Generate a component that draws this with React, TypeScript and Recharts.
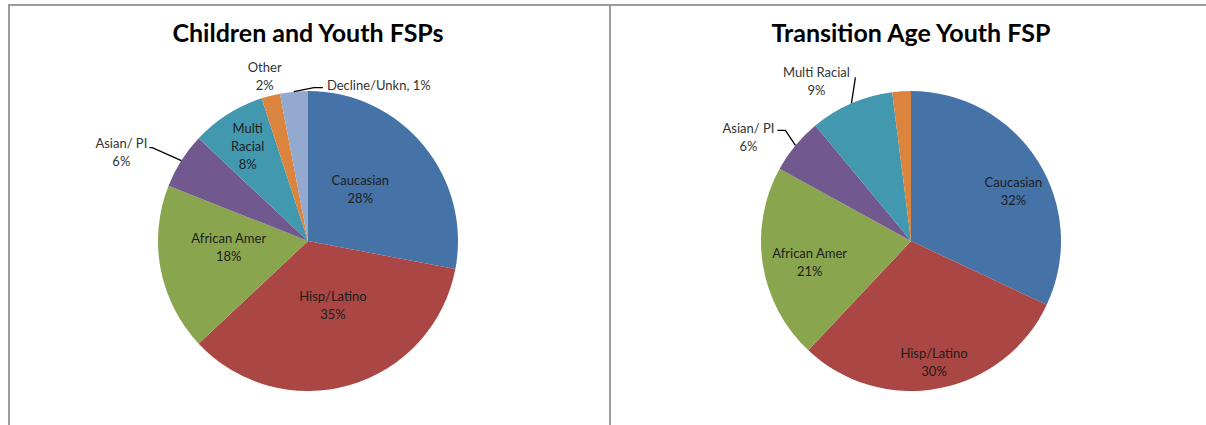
import { PieChart, Pie, Cell } from 'recharts';

// slice order runs clockwise from 12 o'clock
const categories = ['Caucasian', 'Hisp/Latino', 'African Amer', 'Asian/ PI', 'Multi Racial', 'Other', 'Decline/Unkn'];
const childValues = [28, 35, 18, 6, 8, 2, 3];
const tayValues = [32, 30, 21, 6, 9, 2];

const childLabels = [
  ['Caucasian', '28%'],
  ['Hisp/Latino', '35%'],
  ['African Amer', '18%'],
  ['Asian/ PI', '6%'],
  ['Multi', 'Racial', '8%'],
  ['Other', '2%'],
  ['Decline/Unkn, 1%'],
];
const tayLabels = [
  ['Caucasian', '32%'],
  ['Hisp/Latino', '30%'],
  ['African Amer', '21%'],
  ['Asian/ PI', '6%'],
  ['Multi Racial', '9%'],
  [],
];

const colors = ['#4572A7', '#AA4643', '#89A54E', '#71588F', '#4198AF', '#DB843D', '#93A9CF'];

// label placement: k = fraction of radius (inside), nudge = degrees clockwise;
// outside labels are offsets from the slice's edge point
type Place =
  | { k: number; nudge: number }
  | { text: [number, number]; anchor: 'start' | 'middle' | 'end'; line?: [number, number][] };

const childPlace: Place[] = [
  { k: 0.49, nudge: -5 },
  { k: 0.46, nudge: -5 },
  { k: 0.53, nudge: 6.5 },
  { text: [-60, -18], anchor: 'middle', line: [[0, 0], [-29, -13], [-32, -13]] },
  { k: 0.75, nudge: 0 },
  { text: [-6, -29], anchor: 'middle' },
  { text: [33, -7], anchor: 'start', line: [[0, 0], [20, -4], [29, -4]] },
];
const tayPlace: Place[] = [
  { k: 0.76, nudge: 6.3 },
  { k: 0.82, nudge: 0 },
  { k: 0.69, nudge: -2.7 },
  { text: [-47, -17], anchor: 'middle', line: [[0, 0], [-10, -15], [-18, -15]] },
  { text: [-35, -31], anchor: 'middle', line: [[0, 0], [4, -26]] },
  { text: [0, 0], anchor: 'middle' },
];

const RAD = Math.PI / 180;
const FONT = 'Lato, "Open Sans", sans-serif';
const LINE_H = 18;

const makeLabel = (lines: string[][], place: Place[]) => (props: any) => {
  const { cx, cy, midAngle, outerRadius, index } = props;
  const txt = lines[index] || [];
  if (!txt.length) return null;
  const p = place[index];
  if ('k' in p) {
    const a = midAngle - p.nudge;
    const r = outerRadius * p.k;
    const x = cx + r * Math.cos(-a * RAD);
    const y = cy + r * Math.sin(-a * RAD);
    const y0 = y - ((txt.length - 1) * LINE_H) / 2;
    return (
      <text key={`l${index}`} fontFamily={FONT} fontSize={13} fill="#1e1e1e" textAnchor="middle">
        {txt.map((t, i) => (
          <tspan key={i} x={x} y={y0 + i * LINE_H} dominantBaseline="central">
            {t}
          </tspan>
        ))}
      </text>
    );
  }
  const ex = cx + outerRadius * Math.cos(-midAngle * RAD);
  const ey = cy + outerRadius * Math.sin(-midAngle * RAD);
  const tx = ex + p.text[0];
  const ty = ey + p.text[1];
  return (
    <g key={`l${index}`}>
      {p.line && (
        <polyline
          points={p.line.map(([dx, dy]) => `${ex + dx},${ey + dy}`).join(' ')}
          fill="none"
          stroke="#000"
          strokeWidth={1.3}
        />
      )}
      <text fontFamily={FONT} fontSize={13} fill="#333" textAnchor={p.anchor}>
        {txt.map((t, i) => (
          <tspan key={i} x={tx} y={ty + i * LINE_H} dominantBaseline="central">
            {t}
          </tspan>
        ))}
      </text>
    </g>
  );
};

const childData = childValues.map((v, i) => ({ name: categories[i], value: v }));
const tayData = tayValues.map((v, i) => ({ name: categories[i], value: v }));

const titleStyle = (centerX: number): React.CSSProperties => ({
  position: 'absolute',
  left: centerX - 200,
  width: 400,
  top: 20,
  textAlign: 'center',
  fontFamily: FONT,
  fontWeight: 700,
  fontSize: 25,
  lineHeight: '25px',
  color: '#000',
});

function FspPie({ data, lines, place }: { data: any[]; lines: string[][]; place: Place[] }) {
  return (
    <PieChart width={603} height={425} margin={{ top: 0, right: 0, bottom: 0, left: 0 }}>
      <Pie
        data={data}
        dataKey="value"
        nameKey="name"
        cx={308}
        cy={241}
        outerRadius={150}
        startAngle={90}
        endAngle={-270}
        stroke="none"
        labelLine={false}
        label={makeLabel(lines, place)}
        isAnimationActive={false}
      >
        {data.map((_, i) => (
          <Cell key={i} fill={colors[i]} />
        ))}
      </Pie>
    </PieChart>
  );
}

export default function App() {
  const border = '#9c9c9c';
  return (
    <div style={{ position: 'absolute', left: 0, top: 0, width: 1206, height: 425, background: '#fff', overflow: 'hidden' }}>
      {/* panel frames */}
      <div style={{ position: 'absolute', left: 8, top: 4, width: 1198, height: 2, background: border }} />
      <div style={{ position: 'absolute', left: 8, top: 4, width: 2, height: 421, background: border }} />
      <div style={{ position: 'absolute', left: 609, top: 4, width: 2, height: 421, background: border }} />

      <div style={{ position: 'absolute', left: 0, top: 0 }}>
        <FspPie data={childData} lines={childLabels} place={childPlace} />
      </div>
      <div style={{ position: 'absolute', left: 603, top: 0 }}>
        <FspPie data={tayData} lines={tayLabels} place={tayPlace} />
      </div>

      <div style={titleStyle(308)}>Children and Youth FSPs</div>
      <div style={titleStyle(911)}>Transition Age Youth FSP</div>
    </div>
  );
}
